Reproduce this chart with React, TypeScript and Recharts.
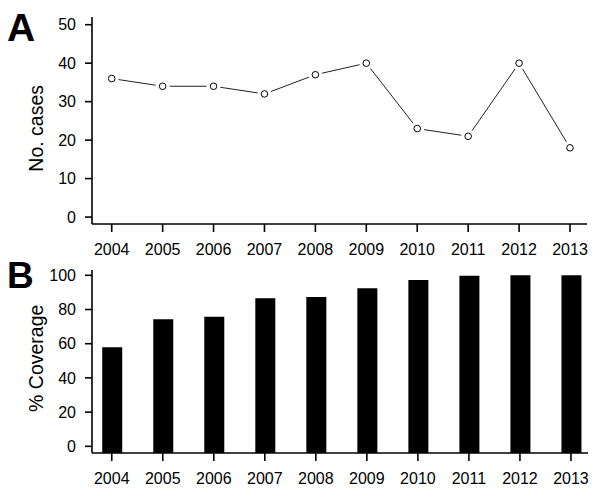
import { LineChart, Line, BarChart, Bar, XAxis, YAxis } from "recharts";

const years = [2004, 2005, 2006, 2007, 2008, 2009, 2010, 2011, 2012, 2013];
const cases = [36, 34, 34, 32, 37, 40, 23, 21, 40, 18];
const coverage = [58, 74.3, 75.8, 86.6, 87.3, 92.4, 97.3, 99.8, 100, 100];
const casesTicks = [0, 10, 20, 30, 40, 50];
const coverageTicks = [0, 20, 40, 60, 80, 100];

const FONT = "'Liberation Sans', Arial, sans-serif";
const X_DOMAIN: [number, number] = [2003.613, 2013.334];
const COVERAGE_FLOOR = -3.9;

const casesData = years.map((year, i) => ({ year, cases: cases[i] }));
const coverageData = years.map((year, i) => ({ year, range: [COVERAGE_FLOOR, coverage[i]] }));

const tickStyle = { fill: "#000", fontSize: 16, fontFamily: FONT };
const axisLine = { stroke: "#000", strokeWidth: 1.6 };
const tickLine = { stroke: "#000", strokeWidth: 1.6 };

function OpenDot(props: any) {
  const { cx, cy } = props;
  if (cx == null || cy == null) return null;
  return (
    <g>
      <circle cx={cx} cy={cy} r={7} fill="#fff" />
      <circle cx={cx} cy={cy} r={3.3} fill="#fff" stroke="#000" strokeWidth={1} />
    </g>
  );
}

export default function App() {
  return (
    <div style={{ position: "absolute", left: 0, top: 0, width: 600, height: 493, background: "#fff" }}>
      <div style={{ position: "absolute", left: 0, top: 0 }}>
        <LineChart width={600} height={262} data={casesData} margin={{ top: 17, right: 13, left: 32, bottom: 0 }}>
          <XAxis
            dataKey="year"
            type="number"
            domain={X_DOMAIN}
            allowDataOverflow
            ticks={years}
            interval={0}
            height={38}
            tick={tickStyle}
            axisLine={axisLine}
            tickLine={tickLine}
            tickSize={8}
            tickMargin={12}
          />
          <YAxis
            domain={[-1.8, 52]}
            allowDataOverflow
            ticks={casesTicks}
            interval={0}
            width={60}
            tick={tickStyle}
            axisLine={axisLine}
            tickLine={tickLine}
            tickSize={7}
            tickMargin={9}
          />
          <Line
            dataKey="cases"
            stroke="#222"
            strokeWidth={1}
            dot={<OpenDot />}
            activeDot={false}
            isAnimationActive={false}
          />
        </LineChart>
      </div>
      <div style={{ position: "absolute", left: 0, top: 250 }}>
        <BarChart width={600} height={243} data={coverageData} margin={{ top: 20, right: 12, left: 32, bottom: 0 }}>
          <XAxis
            dataKey="year"
            type="number"
            domain={X_DOMAIN}
            allowDataOverflow
            ticks={years}
            interval={0}
            height={40}
            tick={tickStyle}
            axisLine={axisLine}
            tickLine={tickLine}
            tickSize={8}
            tickMargin={12}
          />
          <YAxis
            domain={[COVERAGE_FLOOR, 103.1]}
            allowDataOverflow
            ticks={coverageTicks}
            interval={0}
            width={60}
            tick={tickStyle}
            axisLine={axisLine}
            tickLine={tickLine}
            tickSize={7}
            tickMargin={9}
          />
          <Bar dataKey="range" fill="#000" barSize={20} isAnimationActive={false} />
        </BarChart>
      </div>
      <svg width={600} height={493} style={{ position: "absolute", left: 0, top: 0, pointerEvents: "none" }}>
        <text x={7} y={40.5} fontSize={39} fontWeight="bold" fontFamily={FONT} fill="#000">A</text>
        <text x={7} y={287.5} fontSize={37} fontWeight="bold" fontFamily={FONT} fill="#000">B</text>
        <text
          x={43}
          y={128.3}
          fontSize={19.5}
          fontFamily={FONT}
          fill="#000"
          textAnchor="middle"
          transform="rotate(-90 43 128.3)"
        >
          No. cases
        </text>
        <text
          x={43}
          y={358.3}
          fontSize={19.5}
          fontFamily={FONT}
          fill="#000"
          textAnchor="middle"
          transform="rotate(-90 43 358.3)"
        >
          % Coverage
        </text>
      </svg>
    </div>
  );
}
